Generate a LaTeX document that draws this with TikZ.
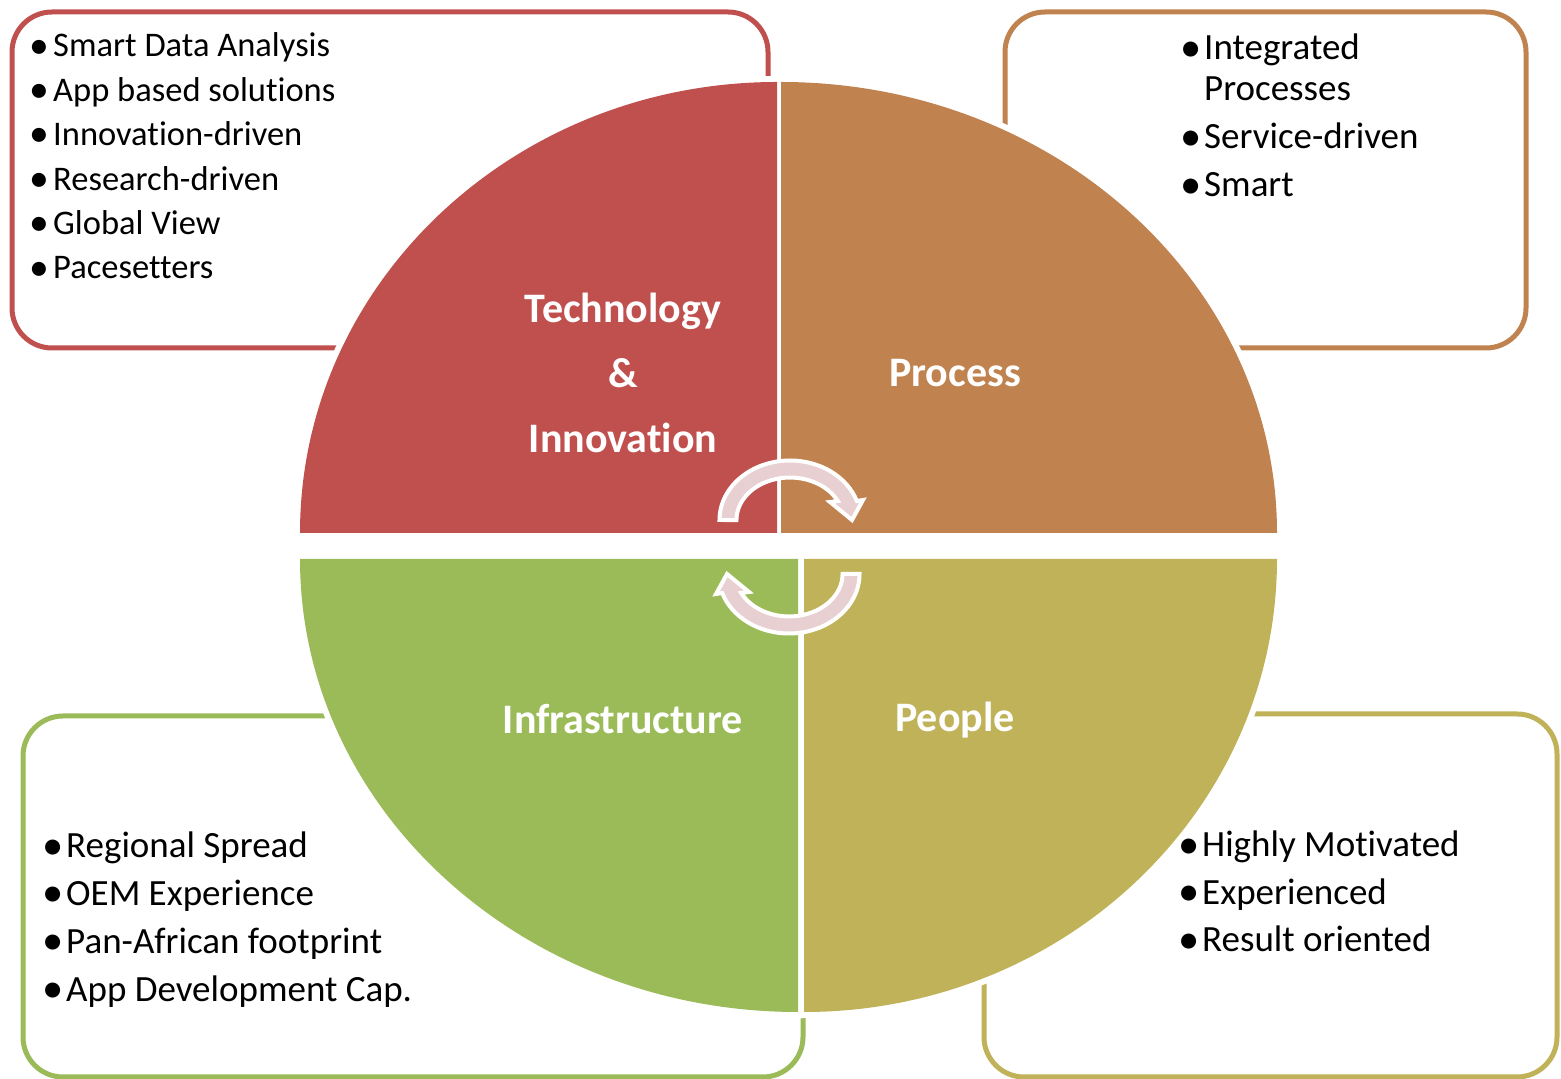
\documentclass[tikz,border=0pt]{standalone}
\usepackage{fontspec}
\setmainfont{Carlito}[Ligatures=NoCommon]
\usepackage{graphicx}
\usepackage{tikz}
\usetikzlibrary{positioning}

\definecolor{techred}{HTML}{C0504D}
\definecolor{procbrown}{HTML}{C0824F}
\definecolor{infragreen}{HTML}{9BBB59}
\definecolor{peopleolive}{HTML}{C0B258}
\definecolor{arrowpink}{HTML}{E8CFD2}

\newcommand{\bul}[1]{\makebox[24pt][l]{\raisebox{-0.03em}{\scalebox{1.15}{\textbullet}}}#1}
\newcommand{\nobul}[1]{\makebox[24pt][l]{}#1}

\tikzset{
    infobox/.style={line width=5pt, rounded corners=40pt, fill=white},
    halo/.style={draw=white, line width=12pt},
    itemtl/.style={anchor=base west, inner sep=0pt, font=\fontsize{34.5}{40}\selectfont},
    item/.style={anchor=base west, inner sep=0pt, font=\fontsize{37}{44}\selectfont},
    quadlabel/.style={text=white, align=center, font=\bfseries\fontsize{42}{65}\selectfont},
    cyclearrow/.style={fill=arrowpink, draw=white, line width=4pt},
    cycarrow/.pic={
        \draw[cyclearrow] (-70.5,0) arc[start angle=180, end angle=18.6, x radius=70.5, y radius=59.5]
            -- (73,20) -- (62,0) -- (40,18) -- (47.8,19)
            arc[start angle=26.6, end angle=180, x radius=53.5, y radius=42.5] -- cycle;
    }
}

\begin{document}
\begin{tikzpicture}[x=1pt, y=1pt]
    \useasboundingbox (0,0) rectangle (1561,1079);

    % callout boxes
    \draw[infobox, draw=techred] (12,731) rectangle (768,1067);
    \draw[infobox, draw=procbrown] (1005,731) rectangle (1526,1067);
    \draw[infobox, draw=infragreen] (23,2) rectangle (803,363);
    \draw[infobox, draw=peopleolive] (984,2) rectangle (1557,365);

    % white rims of the quarters
    \path[halo] (777,546) -- (777,997) arc[start angle=90, end angle=180, x radius=477, y radius=451] -- cycle;
    \path[halo] (781,546) -- (1277,546) arc[start angle=0, end angle=90, x radius=496, y radius=451] -- cycle;
    \path[halo] (798,520) -- (300,520) arc[start angle=180, end angle=270, x radius=498, y radius=453] -- cycle;
    \path[halo] (804,520) -- (804,67) arc[start angle=270, end angle=360, x radius=473, y radius=453] -- cycle;

    % quarters
    \fill[techred] (777,546) -- (777,997) arc[start angle=90, end angle=180, x radius=477, y radius=451] -- cycle;
    \fill[procbrown] (781,546) -- (1277,546) arc[start angle=0, end angle=90, x radius=496, y radius=451] -- cycle;
    \fill[infragreen] (798,520) -- (300,520) arc[start angle=180, end angle=270, x radius=498, y radius=453] -- cycle;
    \fill[peopleolive] (804,520) -- (804,67) arc[start angle=270, end angle=360, x radius=473, y radius=453] -- cycle;

    % quarter labels
    \node[quadlabel] (tech) at (623,706) {Technology\\\&\\Innovation};
    \node[quadlabel] (proc) at (955,706) {Process};
    \node[quadlabel] (infra) at (623,360) {Infrastructure};
    \node[quadlabel] (people) at (955,359) {People};

    % cycle arrows
    \pic (toparrow) at (790,559) {cycarrow};
    \pic[rotate=180] (botarrow) at (789,505) {cycarrow};

    % lists
    \foreach \t [count=\i] in {Smart Data Analysis, App based solutions, Innovation-driven,
        Research-driven, Global View, Pacesetters}
        \node[itemtl] (tl\i) at (29,{1022-(\i-1)*44.4}) {\bul{\t}};

    \node[item] (tr1) at (1180,1019) {\bul{Integrated}};
    \node[item] (tr1b) at (1180,978) {\nobul{Processes}};
    \node[item] (tr2) at (1180,930) {\bul{Service-driven}};
    \node[item] (tr3) at (1180,882) {\bul{Smart}};

    \foreach \t [count=\i] in {Regional Spread, OEM Experience, Pan-African footprint, App Development Cap.}
        \node[item] (bl\i) at (42,{221-(\i-1)*47.7}) {\bul{\t}};

    \foreach \t [count=\i] in {Highly Motivated, Experienced, Result oriented}
        \node[item] (br\i) at (1178,{222-(\i-1)*47.5}) {\bul{\t}};
\end{tikzpicture}
\end{document}
